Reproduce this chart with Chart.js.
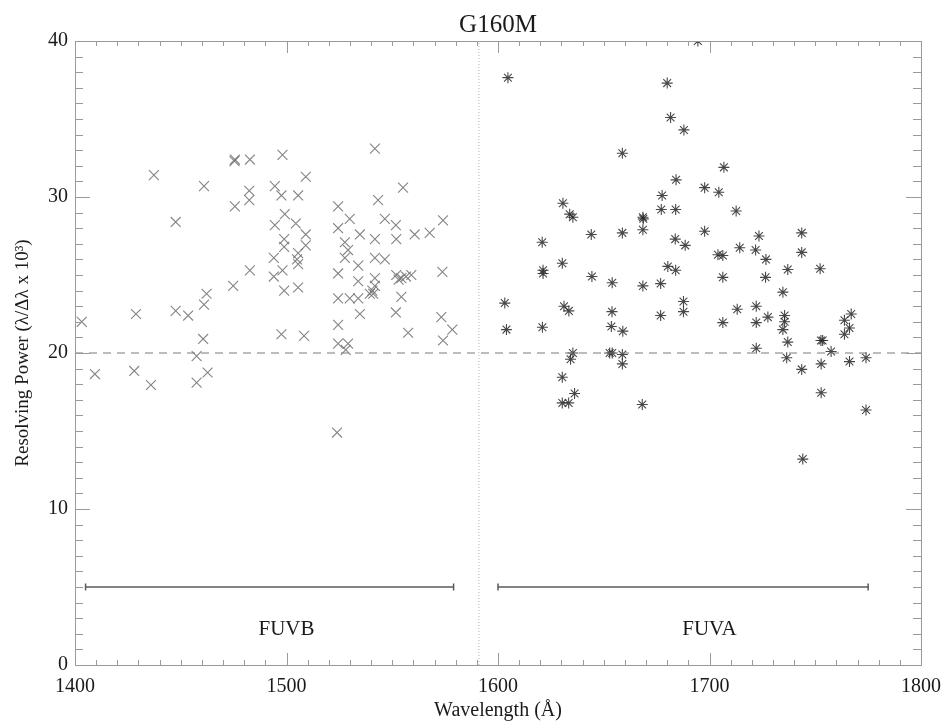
<!DOCTYPE html>
<html>
<head>
<meta charset="utf-8">
<script src="https://cdn.jsdelivr.net/npm/chart.js@4/dist/chart.umd.min.js"></script>
<style>
  html, body { margin: 0; padding: 0; background: #fff; }
  #wrap { width: 946px; height: 723px; }
</style>
</head>
<body>
<div id="wrap"><canvas id="myChart" width="946" height="723"></canvas></div>
<script>
// FUVB segment points (wavelength in Angstrom, resolving power x 10^3)
const fuvbWave = [1403.2, 1428.8, 1437.3, 1447.6, 1447.6, 1453.5, 1461.0, 1462.2, 1461.0, 1460.6,
  1457.5, 1475.6, 1475.4, 1475.6, 1474.8, 1482.7, 1482.4, 1482.4, 1482.7, 1498.1,
  1494.5, 1497.6, 1499.2, 1494.5, 1498.9, 1498.9, 1494.0, 1498.1, 1494.0, 1498.9,
  1497.6, 1505.5, 1504.4, 1509.1, 1509.1, 1509.1, 1505.5, 1505.0, 1505.5, 1505.5,
  1508.3, 1524.4, 1524.4, 1529.9, 1527.6, 1529.1, 1527.6, 1534.7, 1533.9, 1524.4,
  1533.9, 1524.4, 1529.9, 1533.9, 1534.7, 1524.4, 1524.4, 1529.1, 1528.0, 1541.8,
  1543.3, 1541.8, 1546.5, 1541.8, 1546.5, 1541.8, 1541.8, 1539.4, 1541.0, 1540.6,
  1551.7, 1551.9, 1555.1, 1551.9, 1554.3, 1553.0, 1559.0, 1556.5, 1554.3, 1551.7,
  1557.5, 1560.6, 1567.7, 1574.0, 1573.7, 1573.2, 1574.0, 1578.4, 1409.4, 1428.0,
  1435.9, 1457.5, 1462.7, 1523.9];
const fuvbPower = [22.0, 22.5, 31.4, 28.4, 22.7, 22.4, 30.7, 23.8, 23.1, 20.9,
  19.8, 32.4, 32.3, 29.4, 24.3, 32.4, 30.4, 29.8, 25.3, 32.7,
  30.7, 30.1, 28.9, 28.2, 27.3, 26.8, 26.1, 25.3, 24.9, 24.0,
  21.2, 30.1, 28.3, 31.3, 27.6, 26.9, 26.4, 26.0, 25.7, 24.2,
  21.1, 29.4, 28.0, 28.6, 27.1, 26.6, 26.1, 27.6, 25.6, 25.1,
  24.6, 23.5, 23.5, 23.5, 22.5, 21.8, 20.6, 20.6, 20.2, 33.1,
  29.8, 27.3, 28.6, 26.1, 26.0, 24.8, 24.3, 23.8, 23.8, 24.0,
  28.2, 27.3, 30.6, 25.0, 24.8, 24.7, 25.0, 24.9, 23.6, 22.6,
  21.3, 27.6, 27.7, 28.5, 25.2, 22.3, 20.8, 21.5, 18.65, 18.85,
  17.95, 18.1, 18.75, 14.9];

// FUVA segment points
const fuvaWave = [1604.7, 1680.0, 1681.6, 1687.9, 1658.8, 1706.8, 1684.2, 1697.7, 1704.4, 1677.6,
  1630.7, 1712.6, 1677.2, 1684.0, 1633.9, 1635.4, 1668.5, 1668.7, 1644.1, 1658.8,
  1668.5, 1697.7, 1620.9, 1683.8, 1688.5, 1723.4, 1743.6, 1714.3, 1721.8, 1704.0,
  1706.3, 1726.7, 1743.6, 1630.4, 1621.3, 1621.3, 1644.4, 1654.0, 1668.5, 1676.9,
  1680.3, 1684.0, 1706.3, 1726.5, 1737.0, 1752.3, 1734.7, 1603.2, 1631.2, 1633.5,
  1653.9, 1687.7, 1687.7, 1676.9, 1713.1, 1722.1, 1727.6, 1735.5, 1735.5, 1734.7,
  1737.0, 1722.1, 1706.3, 1604.0, 1621.0, 1653.6, 1659.0, 1753.5, 1752.7, 1763.8,
  1763.8, 1766.2, 1767.0, 1722.1, 1757.5, 1774.0, 1635.4, 1634.3, 1652.8, 1654.0,
  1658.8, 1658.8, 1630.4, 1630.4, 1633.4, 1636.2, 1668.2, 1736.5, 1743.6, 1752.8,
  1766.2, 1752.8, 1774.0, 1744.1, 1694.5];
const fuvaPower = [37.65, 37.3, 35.1, 34.3, 32.8, 31.9, 31.1, 30.6, 30.3, 30.1,
  29.6, 29.1, 29.2, 29.2, 28.9, 28.7, 28.7, 28.6, 27.6, 27.7,
  27.9, 27.8, 27.1, 27.3, 26.9, 27.5, 27.7, 26.75, 26.6, 26.3,
  26.25, 26.0, 26.45, 25.75, 25.3, 25.1, 24.9, 24.5, 24.3, 24.45,
  25.55, 25.3, 24.85, 24.85, 25.35, 25.4, 23.9, 23.2, 23.0, 22.7,
  22.65, 23.3, 22.65, 22.4, 22.8, 23.0, 22.3, 22.4, 22.0, 21.5,
  20.7, 21.95, 21.95, 21.5, 21.65, 21.7, 21.4, 20.8, 20.8, 21.2,
  22.1, 21.6, 22.5, 20.3, 20.1, 19.7, 20.0, 19.6, 20.0, 20.0,
  19.9, 19.3, 18.45, 16.8, 16.8, 17.4, 16.7, 19.7, 18.95, 19.3,
  19.45, 17.45, 16.35, 13.2, 40.0];

// detector segment ranges and labels
const bandNames = ['FUVB', 'FUVA'];
const bandStart = [1405, 1600];
const bandEnd = [1579, 1775];
const bandLevel = 5;
const bandLabelX = [1500, 1700];
const bandLabelY = 1.9;

// reference lines
const requirementPower = 20;
const segmentGap = 1591;

const xTicks = [1400, 1500, 1600, 1700, 1800];
const yTicks = [0, 10, 20, 30, 40];

const toPoints = (xs, ys) => xs.map((x, i) => ({ x: x, y: ys[i] }));

const serif = '"Liberation Serif", "DejaVu Serif", serif';

// frame with inward ticks on all four sides, title and segment labels
const framePlugin = {
  id: 'frame',
  afterDatasetsDraw(chart) {
    const { ctx, chartArea: a, scales } = chart;
    const xs = scales.x, ys = scales.y;
    ctx.save();
    ctx.strokeStyle = '#9a9a9a';
    ctx.lineWidth = 1;
    ctx.strokeRect(a.left + 0.5, a.top + 0.5, a.right - a.left, a.bottom - a.top);
    ctx.beginPath();
    for (let v = xs.min; v <= xs.max; v += 10) {
      const px = Math.round(xs.getPixelForValue(v)) + 0.5;
      const len = v % 100 === 0 ? 12 : 5;
      ctx.moveTo(px, a.bottom); ctx.lineTo(px, a.bottom - len);
      ctx.moveTo(px, a.top); ctx.lineTo(px, a.top + len);
    }
    for (let v = ys.min; v <= ys.max; v += 1) {
      const py = Math.round(ys.getPixelForValue(v)) + 0.5;
      const len = v % 10 === 0 ? 15 : 8;
      ctx.moveTo(a.left, py); ctx.lineTo(a.left + len, py);
      ctx.moveTo(a.right, py); ctx.lineTo(a.right - len, py);
    }
    ctx.stroke();

    ctx.fillStyle = '#1a1a1a';
    ctx.textAlign = 'center';
    ctx.textBaseline = 'alphabetic';
    ctx.font = '25px ' + serif;
    ctx.fillText('G160M', (a.left + a.right) / 2, 32);
    ctx.font = '21px ' + serif;
    bandNames.forEach((name, i) => {
      ctx.fillText(name, xs.getPixelForValue(bandLabelX[i]), ys.getPixelForValue(bandLabelY));
    });
    ctx.restore();
  }
};

const ctx = document.getElementById('myChart').getContext('2d');
new Chart(ctx, {
  type: 'scatter',
  data: {
    datasets: [
      {
        label: 'requirement',
        type: 'line',
        data: [{ x: 1400, y: requirementPower }, { x: 1800, y: requirementPower }],
        borderColor: '#7a7a7a',
        borderWidth: 1,
        borderDash: [8, 6],
        pointRadius: 0
      },
      {
        label: 'gap',
        type: 'line',
        data: [{ x: segmentGap, y: 0 }, { x: segmentGap, y: 40 }],
        borderColor: '#b0b0b0',
        borderWidth: 1,
        borderDash: [1, 2],
        pointRadius: 0
      },
      ...bandNames.map((name, i) => ({
        label: name + ' range',
        type: 'line',
        data: [{ x: bandStart[i], y: bandLevel }, { x: bandEnd[i], y: bandLevel }],
        borderColor: '#5a5a5a',
        borderWidth: 1.5,
        pointStyle: 'line',
        rotation: 90,
        pointRadius: 3.5,
        pointBorderColor: '#5a5a5a',
        pointBorderWidth: 1.5
      })),
      {
        label: 'FUVB',
        data: toPoints(fuvbWave, fuvbPower),
        pointStyle: 'crossRot',
        pointRadius: 7,
        pointBorderColor: 'rgba(110,110,110,0.85)',
        pointBorderWidth: 1.1
      },
      {
        label: 'FUVA',
        data: toPoints(fuvaWave, fuvaPower),
        pointStyle: 'star',
        pointRadius: 5.5,
        pointBorderColor: 'rgba(40,40,40,0.85)',
        pointBorderWidth: 1.1
      }
    ]
  },
  options: {
    responsive: false,
    animation: false,
    events: [],
    layout: { padding: { top: 41, right: 25, left: 0, bottom: 0 } },
    plugins: {
      legend: { display: false },
      title: { display: false },
      tooltip: { enabled: false }
    },
    scales: {
      x: {
        type: 'linear',
        min: 1400,
        max: 1800,
        afterFit: (s) => { s.height = 58; s.paddingLeft = 0; s.paddingRight = 0; },
        afterBuildTicks: (s) => { s.ticks = xTicks.map(v => ({ value: v })); },
        grid: { display: false, drawTicks: false },
        border: { display: false },
        ticks: {
          padding: 10,
          color: '#1a1a1a',
          font: { family: serif, size: 20 },
          maxRotation: 0,
          callback: (v) => String(v)
        },
        title: {
          display: true,
          text: 'Wavelength (Å)',
          color: '#1a1a1a',
          font: { family: serif, size: 20 },
          padding: { top: 0, bottom: 0 }
        }
      },
      y: {
        type: 'linear',
        min: 0,
        max: 40,
        afterFit: (s) => { s.width = 75; s.paddingTop = 0; s.paddingBottom = 0; },
        afterBuildTicks: (s) => { s.ticks = yTicks.map(v => ({ value: v })); },
        grid: { display: false, drawTicks: false },
        border: { display: false },
        ticks: {
          padding: 7,
          color: '#1a1a1a',
          font: { family: serif, size: 20 },
          callback: (v) => String(v)
        },
        title: {
          display: true,
          text: 'Resolving Power (λ/Δλ x 10³)',
          color: '#1a1a1a',
          font: { family: serif, size: 19 },
          padding: { top: 12, bottom: 0 }
        }
      }
    }
  },
  plugins: [framePlugin]
});
</script>
</body>
</html>
